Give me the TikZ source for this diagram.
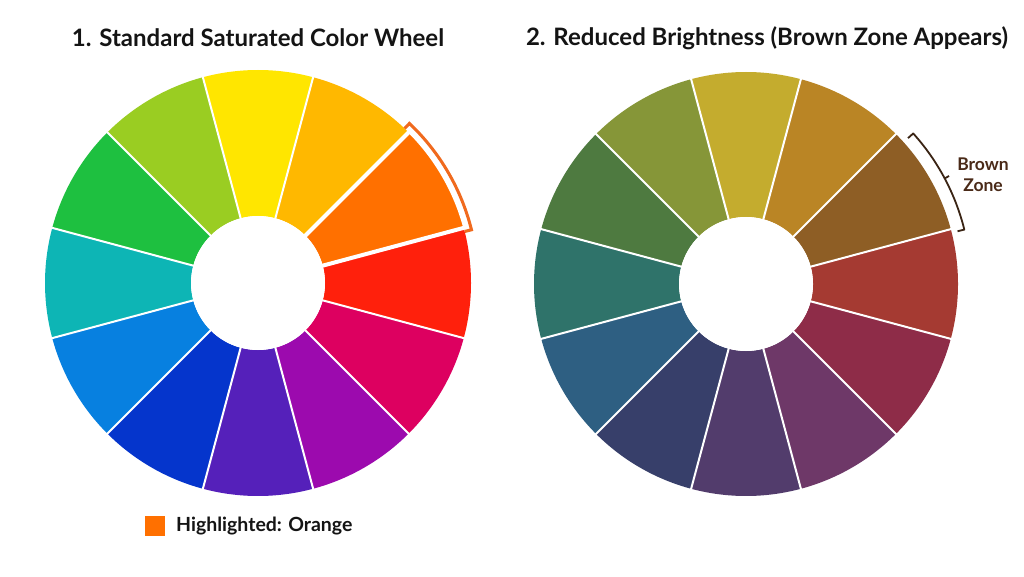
\documentclass[tikz,border=0pt]{standalone}
\usepackage{fontspec}
\setmainfont{Lato}
\usetikzlibrary{calc}
\definecolor{sepwhite}{HTML}{FFFFFF}
\definecolor{hlorange}{HTML}{F06A1E}
\definecolor{browntxt}{HTML}{4A2A18}
\definecolor{bracketcol}{HTML}{3A2414}
\definecolor{txtdark}{HTML}{141414}
% left wheel colours
\definecolor{Lc0}{HTML}{FF200C}
\definecolor{Lc1}{HTML}{FF7000}
\definecolor{Lc2}{HTML}{FFB800}
\definecolor{Lc3}{HTML}{FFE600}
\definecolor{Lc4}{HTML}{9ACD22}
\definecolor{Lc5}{HTML}{1EC040}
\definecolor{Lc6}{HTML}{0DB5B5}
\definecolor{Lc7}{HTML}{0780E0}
\definecolor{Lc8}{HTML}{0535CC}
\definecolor{Lc9}{HTML}{5520BA}
\definecolor{Lc10}{HTML}{9C0AAE}
\definecolor{Lc11}{HTML}{DD0060}
% right wheel colours
\definecolor{Rc0}{HTML}{A53A32}
\definecolor{Rc1}{HTML}{8E5E25}
\definecolor{Rc2}{HTML}{BA8525}
\definecolor{Rc3}{HTML}{C4AC2E}
\definecolor{Rc4}{HTML}{869638}
\definecolor{Rc5}{HTML}{4E7A40}
\definecolor{Rc6}{HTML}{2F736A}
\definecolor{Rc7}{HTML}{2E5F82}
\definecolor{Rc8}{HTML}{373F6A}
\definecolor{Rc9}{HTML}{523C6C}
\definecolor{Rc10}{HTML}{6E3868}
\definecolor{Rc11}{HTML}{8E2C48}
\tikzset{
  titletext/.style={font=\fontsize{24}{28}\selectfont\bfseries, text=txtdark, inner sep=0pt},
  labeltext/.style={font=\fontsize{19.5}{23}\selectfont\bfseries, text=txtdark, inner sep=0pt},
  zonetext/.style={font=\fontsize{17.5}{21}\selectfont\bfseries, text=browntxt, align=center, inner sep=0pt},
  sepline/.style={draw=sepwhite, line width=2pt},
  hlsep/.style={draw=sepwhite, line width=4pt},
  hloutline/.style={draw=hlorange, line width=3pt, line join=miter},
  bracketline/.style={draw=bracketcol, line width=1.8pt, line join=round},
}
\newcommand{\wedgeseg}[4]{% color, a1, rin, rout
  \fill[#1] (#2-15:#3) -- (#2-15:#4) arc[start angle=#2-15, end angle=#2+15, radius=#4]
     -- (#2+15:#3) arc[start angle=#2+15, end angle=#2-15, radius=#3] -- cycle;}
\begin{document}
\begin{tikzpicture}[x=1pt,y=1pt]
\useasboundingbox[fill=white] (0,0) rectangle (1024,576);
% titles
\node[titletext] (t1) at (258,538) {1. Standard Saturated Color Wheel};
\node[titletext] (t2) at (767,538) {2. Reduced Brightness (Brown Zone Appears)};
% left wheel
\begin{scope}[shift={(258,293)}]
  \foreach \i in {0,...,11} {\wedgeseg{Lc\i}{\i*30}{67}{213}}
  \foreach \i in {0,...,11} {\draw[sepline] (\i*30+15:65) -- (\i*30+15:215);}
  \draw[hlsep] (15:64) -- (15:216);
  \draw[hlsep] (45:64) -- (45:216);
  \draw[hlsep] (45:214.5) arc[start angle=45, end angle=15, radius=214.5];
  \draw[hloutline] (46.5:213) -- (46.5:220) arc[start angle=46.5, end angle=14, radius=220] -- (14:213);
  \fill[white] (0,0) circle[radius=67];
\end{scope}
% right wheel
\begin{scope}[shift={(746,292)}]
  \foreach \i in {0,...,11} {\wedgeseg{Rc\i}{\i*30}{67}{212}}
  \foreach \i in {0,...,11} {\draw[sepline] (\i*30+15:65) -- (\i*30+15:214);}
  \fill[white] (0,0) circle[radius=67];
  \draw[bracketline] (42:218) -- (42:225) arc[start angle=42, end angle=14, radius=225] -- (14:218);
  \draw[bracketline] (28:225) -- (28:230);
\end{scope}
\node[zonetext] (bz) at (983,401) {Brown\\Zone};
% legend
\fill[Lc1] (145,40) rectangle (165,60);
\node[labeltext, anchor=west] (leg) at (176,50) {Highlighted: Orange};
\end{tikzpicture}
\end{document}
